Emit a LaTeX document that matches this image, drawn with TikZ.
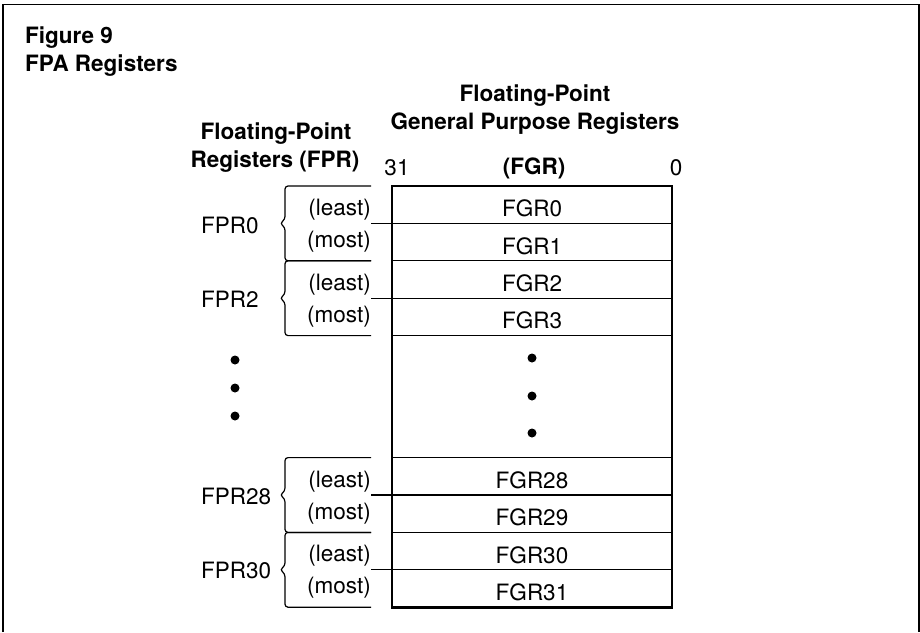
\documentclass[tikz,border=0pt]{standalone}
\usepackage{fontspec}
\setmainfont{TeX Gyre Heros}
\usetikzlibrary{positioning}
\tikzset{
    reg/.style={
        rectangle,
        draw=black,
        line width=1.2pt,
        minimum width=280pt,
        minimum height=37.4pt,
        inner sep=0pt,
        outer sep=0pt,
        text height=24pt,
        text depth=0pt,
        font=\fontsize{22.5}{26}\selectfont
    },
    gapbox/.style={reg, minimum height=122pt},
    half/.style={anchor=east, inner sep=0pt, font=\fontsize{22.5}{26}\selectfont},
    fprlabel/.style={anchor=west, inner sep=0pt, font=\fontsize{22.5}{26}\selectfont},
    head/.style={inner sep=0pt, font=\bfseries\fontsize{22.5}{26}\selectfont},
    bracket/.style={draw=black, line width=1.2pt, rounded corners=3pt},
    dot/.style={circle, fill=black, inner sep=0pt, minimum size=9pt}
}

\begin{document}
\begin{tikzpicture}[x=1pt, y=-1pt]
        \useasboundingbox (0,0) rectangle (920,632);
        % Frame
        \draw [line width=1.2pt] (3,632) -- (3,4.5) -- (919,4.5) -- (919,632);

        % Title
        \node (fig) [head, anchor=west] at (25,38) {Figure 9};
        \node (title) [head, anchor=west] at (25,66) {FPA Registers};

        % Headings
        \node (fgrhead1) [head] at (535,96) {Floating-Point};
        \node (fgrhead2) [head] at (535,124) {General Purpose Registers};
        \node (fprhead1) [head] at (276,134) {Floating-Point};
        \node (fprhead2) [head] at (275,162) {Registers (FPR)};
        \node (bit31) [half, anchor=center] at (397,168) {31};
        \node (fgrhead3) [head] at (534,168) {(FGR)};
        \node (bit0) [half, anchor=center] at (676,168) {0};

        % Register file
        \node (fgr0) [reg, anchor=north west] at (392,186) {FGR0};
        \node (fgr1) [reg, below=0pt of fgr0] {FGR1};
        \node (fgr2) [reg, below=0pt of fgr1] {FGR2};
        \node (fgr3) [reg, below=0pt of fgr2] {FGR3};
        \node (gap) [gapbox, below=0pt of fgr3] {};
        \node (fgr28) [reg, below=0pt of gap] {FGR28};
        \node (fgr29) [reg, below=0pt of fgr28] {FGR29};
        \node (fgr30) [reg, below=0pt of fgr29] {FGR30};
        \node (fgr31) [reg, below=0pt of fgr30] {FGR31};
        \draw [line width=2.6pt] (fgr0.north west) rectangle (fgr31.south east);

        % Dots
        \node (gdot1) [dot] at (532,358) {};
        \node (gdot2) [dot] at (532,396) {};
        \node (gdot3) [dot] at (532,433) {};
        \node (ldot1) [dot] at (235,360) {};
        \node (ldot2) [dot] at (235,388) {};
        \node (ldot3) [dot] at (235,416) {};

        % FPR0
        \node (least0) [half] at (371,210) {(least)};
        \node (most0) [half] at (371,242) {(most)};
        \node (fpr0) [fprlabel] at (201,225) {FPR0};
        \draw [bracket] ([xshift=-21pt]fgr0.north west) -- ([xshift=-107pt]fgr0.north west)
            -- ([xshift=-107pt,yshift=4pt]fgr0.south west) -- ([xshift=-112pt]fgr0.south west)
            -- ([xshift=-107pt,yshift=-4pt]fgr0.south west) -- ([xshift=-107pt]fgr1.south west)
            -- ([xshift=-21pt]fgr1.south west);
        \draw [line width=1.2pt] (least0.east |- fgr0.south west) -- (fgr0.south west);

        % FPR2
        \node (least2) [half] at (371,284.5) {(least)};
        \node (most2) [half] at (371,316.5) {(most)};
        \node (fpr2) [fprlabel] at (201,299) {FPR2};
        \draw [bracket] ([xshift=-21pt]fgr2.north west) -- ([xshift=-107pt]fgr2.north west)
            -- ([xshift=-107pt,yshift=4pt]fgr2.south west) -- ([xshift=-112pt]fgr2.south west)
            -- ([xshift=-107pt,yshift=-4pt]fgr2.south west) -- ([xshift=-107pt]fgr3.south west)
            -- ([xshift=-21pt]fgr3.south west);
        \draw [line width=1.2pt] (least2.east |- fgr2.south west) -- (fgr2.south west);

        % FPR28
        \node (least28) [half] at (371,481.5) {(least)};
        \node (most28) [half] at (371,513.5) {(most)};
        \node (fpr28) [fprlabel] at (201,496) {FPR28};
        \draw [bracket] ([xshift=-21pt]fgr28.north west) -- ([xshift=-107pt]fgr28.north west)
            -- ([xshift=-107pt,yshift=4pt]fgr28.south west) -- ([xshift=-112pt]fgr28.south west)
            -- ([xshift=-107pt,yshift=-4pt]fgr28.south west) -- ([xshift=-107pt]fgr29.south west)
            -- ([xshift=-21pt]fgr29.south west);
        \draw [line width=1.2pt] (least28.east |- fgr28.south west) -- (fgr28.south west);

        % FPR30
        \node (least30) [half] at (371,556) {(least)};
        \node (most30) [half] at (371,588) {(most)};
        \node (fpr30) [fprlabel] at (201,570.5) {FPR30};
        \draw [bracket] ([xshift=-21pt]fgr30.north west) -- ([xshift=-107pt]fgr30.north west)
            -- ([xshift=-107pt,yshift=4pt]fgr30.south west) -- ([xshift=-112pt]fgr30.south west)
            -- ([xshift=-107pt,yshift=-4pt]fgr30.south west) -- ([xshift=-107pt]fgr31.south west)
            -- ([xshift=-21pt]fgr31.south west);
        \draw [line width=1.2pt] (least30.east |- fgr30.south west) -- (fgr30.south west);

    \end{tikzpicture}
\end{document}
